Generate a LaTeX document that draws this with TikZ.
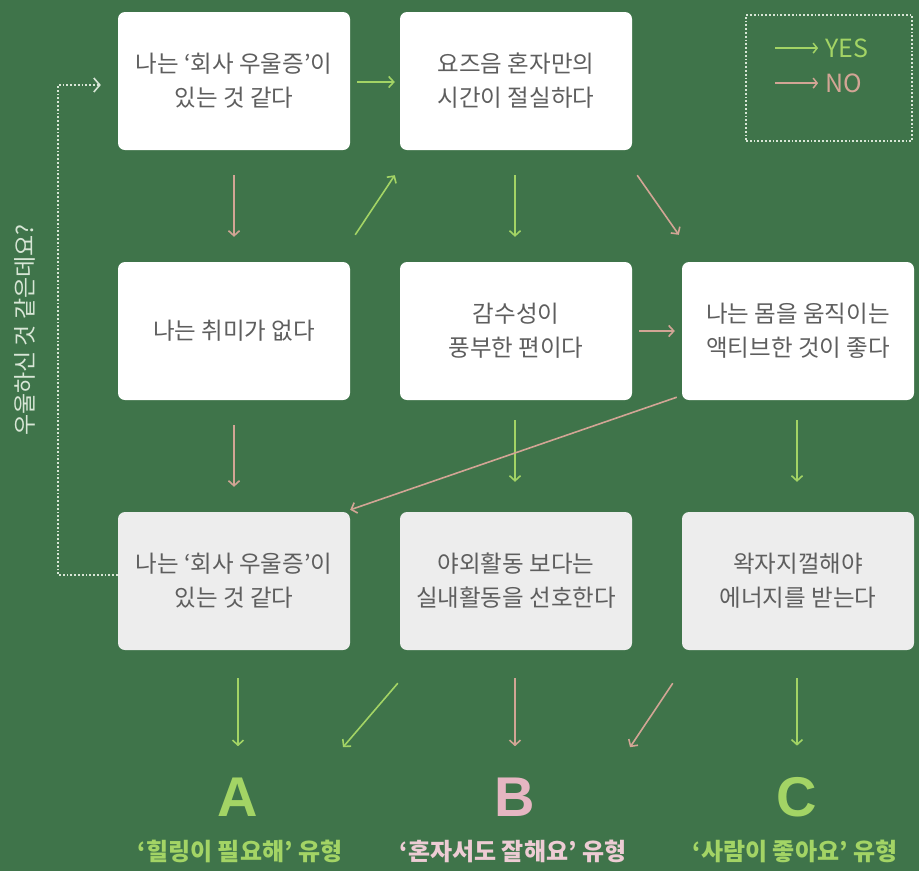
\documentclass[tikz,border=0pt]{standalone}
\usepackage{fontspec}
\setmainfont{Noto Sans CJK KR}
\newfontfamily\letterfont{Liberation Sans}
\usetikzlibrary{arrows.meta,calc}
\definecolor{bg}{HTML}{3F744A}
\definecolor{yesc}{HTML}{A3D465}
\definecolor{noc}{HTML}{D2A595}
\definecolor{txt}{HTML}{5E5E5E}
\definecolor{boxlight}{HTML}{EDEDED}
\definecolor{lblB}{HTML}{E6B6C2}
\definecolor{dotc}{HTML}{D8E6D6}
\begin{document}
\begin{tikzpicture}[x=1pt,y=-1pt,
  qbox/.style={draw=none,fill=white,rounded corners=7pt,minimum width=232pt,minimum height=138pt,
    inner sep=0pt,align=center,text=txt,font=\fontsize{23.5}{34}\selectfont},
  qlight/.style={qbox,fill=boxlight},
  yesarr/.style={draw=yesc,line width=1.6pt,-{Straight Barb[length=5pt,width=11pt,line width=1.6pt]}},
  noarr/.style={draw=noc,line width=1.6pt,-{Straight Barb[length=5pt,width=11pt,line width=1.6pt]}},
  bigletter/.style={font=\letterfont\bfseries\fontsize{56}{56}\selectfont},
  result/.style={font=\bfseries\fontsize{24}{26}\selectfont},
  dotline/.style={draw=dotc,line width=1.8pt,dotted}
]
\fill[bg] (0,0) rectangle (919,871);
\useasboundingbox (0,0) rectangle (919,871);

% boxes
\node[qbox] (b1) at (234,81) {나는 ‘회사 우울증’이\\있는 것 같다};
\node[qbox] (b2) at (516,81) {요즈음 혼자만의\\시간이 절실하다};
\node[qbox] (b4) at (234,331) {나는 취미가 없다};
\node[qbox] (b5) at (516,331) {감수성이\\풍부한 편이다};
\node[qbox] (b6) at (798,331) {나는 몸을 움직이는\\액티브한 것이 좋다};
\node[qlight] (b7) at (234,581) {나는 ‘회사 우울증’이\\있는 것 같다};
\node[qlight] (b8) at (516,581) {야외활동 보다는\\실내활동을 선호한다};
\node[qlight] (b9) at (798,581) {왁자지껄해야\\에너지를 받는다};

% results
\node[bigletter,text=yesc] (A) at (238,797) {A};
\node[bigletter,text=lblB] (B) at (515,797) {B};
\node[bigletter,text=yesc] (C) at (797,797) {C};
\node[result,text=yesc] (la) at (240,851) {‘힐링이 필요해’ 유형};
\node[result,text=lblB!70!white] (lb) at (513,851) {‘혼자서도 잘해요’ 유형};
\node[result,text=yesc] (lc) at (795,851) {‘사람이 좋아요’ 유형};

% arrows row 1
\draw[yesarr] ($(b1.east)+(7,1)$) -- ($(b2.west)+(-5,1)$);
\draw[noarr] ($(b1.south)+(0,25)$) -- ($(b4.north)+(0,-25)$);
\draw[yesarr] ($(b4.north east)+(5,-27)$) -- ($(b2.south west)+(-5,25)$);
\draw[yesarr] ($(b2.south)+(-1,25)$) -- ($(b5.north)+(-1,-25)$);
\draw[noarr] ($(b2.south east)+(5,25)$) -- ($(b6.north west)+(-3,-27)$);
% row 2
\draw[noarr] ($(b5.east)+(7,0)$) -- ($(b6.west)+(-7,0)$);
\draw[noarr] ($(b4.south)+(0,25)$) -- ($(b7.north)+(0,-25)$);
\draw[yesarr] ($(b5.south)+(-1,20)$) -- ($(b8.north)+(-1,-30)$);
\draw[yesarr] ($(b6.south)+(-1,20)$) -- ($(b9.north)+(-1,-30)$);
\draw[noarr] ($(b6.south west)+(-5,-3)$) -- ($(b7.north east)+(0,-2)$);
% row 3 to results
\draw[yesarr] ($(b7.south -| A.north)+(0,28)$) -- ($(A.north)+(0,-28)$);
\draw[yesarr] ($(b8.south west)+(-2,33)$) -- ($(A.north)+(105,-27)$);
\draw[noarr] ($(b8.south -| B.north)+(0,28)$) -- ($(B.north)+(0,-28)$);
\draw[noarr] ($(b9.south west)+(-9,33)$) -- ($(B.north)+(115,-27)$);
\draw[yesarr] ($(b9.south -| C.north)+(0,28)$) -- ($(C.north)+(0,-28)$);

% dotted loop
\coordinate (lp1) at ($(b7.west)+(-60,-6)$);
\coordinate (lp2) at ($(b1.west)+(-60,4)$);
\coordinate (lp3) at ($(b1.west)+(-18,4)$);
\draw[dotline] (b7.west|-lp1) -- (lp1) -- (lp2) -- (lp3);
\draw[draw=dotc,line width=1.6pt] ($(lp3)+(-6,-7)$) -- (lp3) -- ($(lp3)+(-6,7)$);
\node[rotate=90,text=dotc,font=\fontsize{23}{24}\selectfont] (q) at (25,330) {우울하신 것 같은데요?};

% legend
\node[draw=dotc,line width=1.8pt,dotted,minimum width=166pt,minimum height=126pt,inner sep=0pt] (leg) at (829,78) {};
\coordinate (ly1) at ($(leg.north west)+(30,34)$);
\coordinate (ly2) at ($(leg.north west)+(73,34)$);
\coordinate (ln1) at ($(leg.north west)+(30,69)$);
\coordinate (ln2) at ($(leg.north west)+(73,69)$);
\draw[draw=yesc,line width=1.5pt,-{Straight Barb[length=4pt,width=10pt,line width=1.5pt]}] (ly1) -- (ly2);
\draw[draw=noc,line width=1.5pt,-{Straight Barb[length=4pt,width=10pt,line width=1.5pt]}] (ln1) -- (ln2);
\node[anchor=west,text=yesc,font=\fontsize{25}{26}\selectfont,inner sep=1pt,xshift=6pt] (ytxt) at (ly2) {YES};
\node[anchor=west,text=noc,font=\fontsize{25}{26}\selectfont,inner sep=1pt,xshift=6pt] (ntxt) at (ln2) {NO};
\end{tikzpicture}
\end{document}
